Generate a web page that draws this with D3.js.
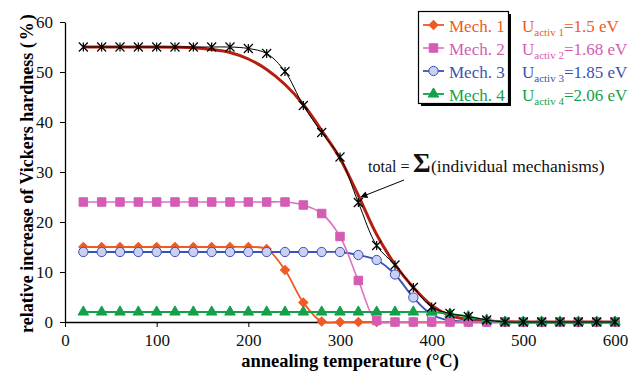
<!DOCTYPE html>
<html>
<head>
<meta charset="utf-8">
<script src="https://cdn.jsdelivr.net/npm/d3@7"></script>
<style>
  body { margin: 0; background: #fff; }
  #chart, #chart text { font-family: "Liberation Serif", "Times New Roman", Times, serif !important; }
</style>
</head>
<body>
<svg id="chart" width="629" height="373" font-family="Liberation Serif, Times New Roman, serif"></svg>
<script>
// Annealing temperatures (°C) of the measured points
const temps = [20, 40, 60, 80, 100, 120, 140, 160, 180, 200, 220, 240, 260, 280, 300,
               320, 340, 360, 380, 400, 420, 440, 460, 480, 500, 520, 540, 560, 580, 600];

// Relative increase of Vickers hardness (%) per recovery mechanism
const mech1 = [15, 15, 15, 15, 15, 15, 15, 15, 15, 15, 14.6, 10.4, 3.9, 0.1, 0,
               0, 0, 0, 0, 0, 0, 0, 0, 0, 0, 0, 0, 0, 0, 0];
const mech2 = [24, 24, 24, 24, 24, 24, 24, 24, 24, 24, 24, 24, 23.4, 21.7, 17.1,
               8.3, 0.3, 0, 0, 0, 0, 0, 0, 0, 0, 0, 0, 0, 0, 0];
const mech3 = [14, 14, 14, 14, 14, 14, 14, 14, 14, 14, 14, 14, 14, 14, 14,
               13.4, 12.4, 9.5, 4.9, 1.5, 0.3, 0.1, 0, 0, 0, 0, 0, 0, 0, 0];
const mech4 = [2, 2, 2, 2, 2, 2, 2, 2, 2, 2, 2, 2, 2, 2, 2,
               2, 2, 2, 2, 2, 1.6, 1.1, 0.4, 0, 0, 0, 0, 0, 0, 0];
const total = [55, 55, 55, 55, 55, 55, 55, 55, 55, 54.7, 53.7, 50.1, 43.3, 37.9, 33.0,
               23.9, 15.3, 11.4, 6.9, 3.0, 1.7, 1.1, 0.4, 0, 0, 0, 0, 0, 0, 0];

// Smooth model curve for the sum of the mechanisms
const fitTemps = [20, 40, 60, 80, 100, 120, 140, 160, 180, 200, 220, 240, 260, 280, 300,
                  320, 340, 360, 380, 400, 420, 440, 460, 480, 500, 520, 540, 560, 580, 600];
const fitValues = [55, 55, 55, 55, 55, 54.95, 54.85, 54.5, 53.9, 52.6, 50.5, 47.5, 43.5, 38.3, 32.7,
                   25.3, 17.5, 11.5, 6.9, 3.3, 1.3, 0.5, 0.2, 0.07, 0.02, 0, 0, 0, 0, 0];

// Axis ticks
const xTicks = [0, 100, 200, 300, 400, 500, 600];
const yTicks = [0, 10, 20, 30, 40, 50, 60];

// Legend texts
const mechNames = ["Mech. 1", "Mech. 2", "Mech. 3", "Mech. 4"];
const activSubs = ["activ 1", "activ 2", "activ 3", "activ 4"];
const activValues = ["=1.5 eV", "=1.68 eV", "=1.85 eV", "=2.06 eV"];

const FONT = "Liberation Serif, Times New Roman, serif";
const svg = d3.select("#chart");
const x = d3.scaleLinear().domain([0, 600]).range([65, 615]);
const y = d3.scaleLinear().domain([0, 60]).range([322, 22]);

// Axes
const xAxis = svg.append("g")
  .attr("transform", `translate(0,${y(0)})`)
  .call(d3.axisBottom(x).tickValues(xTicks).tickSize(5).tickSizeOuter(0).tickPadding(7));
const yAxis = svg.append("g")
  .attr("transform", `translate(${x(0)},0)`)
  .call(d3.axisLeft(y).tickValues(yTicks).tickSize(5).tickSizeOuter(0).tickPadding(7));
[xAxis, yAxis].forEach(a => {
  a.attr("font-family", FONT);
  a.selectAll("path.domain").attr("stroke", "#000").attr("stroke-width", 1.3);
  a.selectAll(".tick line").attr("stroke", "#000").attr("stroke-width", 1);
  a.selectAll("text").attr("font-size", 17).attr("fill", "#111");
});

// Axis titles
svg.append("text")
  .attr("x", 350).attr("y", 367)
  .attr("text-anchor", "middle")
  .attr("font-size", 18.5).attr("font-weight", "bold")
  .text("annealing temperature (°C)");
const yTitle = svg.append("text")
  .attr("transform", "translate(32.5,333) rotate(-90)")
  .attr("text-anchor", "start")
  .attr("font-size", 18).attr("font-weight", "bold");
yTitle.append("tspan").text("relative increase of Vickers hardness ");
yTitle.append("tspan").text("(");
yTitle.append("tspan").attr("dx", 2).text("%");
yTitle.append("tspan").attr("dx", 2).text(")");

// Marker shapes
const asteriskPath = (r) =>
  `M0,${-r}L0,${r}M${-r},${-r}L${r},${r}M${-r},${r}L${r},${-r}`;
const markers = {
  diamond: { d: d3.symbol(d3.symbolSquare, 42)(), rot: 45 },
  square: { d: d3.symbol(d3.symbolSquare, 72)(), rot: 0 },
  circle: { d: d3.symbol(d3.symbolCircle, 68)(), rot: 0 },
  triangle: { d: d3.symbol(d3.symbolTriangle, 48)(), rot: 0 },
  asterisk: { d: asteriskPath(4.5), rot: 0 }
};

const series = [
  { name: "m1", values: mech1, line: "#ee5a24", fill: "#ee5a24", stroke: "#ee5a24", marker: "diamond", lw: 1.8 },
  { name: "m3", values: mech3, line: "#3a52b4", fill: "#c9d0f2", stroke: "#3a52b4", marker: "circle", lw: 1.8 },
  { name: "m2", values: mech2, line: "#dc72c4", fill: "#d45cb3", stroke: "#d45cb3", marker: "square", lw: 1.6 },
  { name: "m4", values: mech4, line: "#14a04a", fill: "#14a04a", stroke: "#14a04a", marker: "triangle", lw: 1.8 },
  { name: "total", values: total, line: "#000", fill: "none", stroke: "#000", marker: "asterisk", lw: 1 }
];

// Model curve (drawn underneath the measured series)
const fitLine = d3.line()
  .x((d, i) => x(fitTemps[i]))
  .y(d => y(d))
  .curve(d3.curveCatmullRom.alpha(0.5));
svg.append("path")
  .attr("d", fitLine(fitValues))
  .attr("fill", "none")
  .attr("stroke", "#b3200f")
  .attr("stroke-width", 3);

const seriesLine = d3.line()
  .x((d, i) => x(temps[i]))
  .y(d => y(d))
  .curve(d3.curveCatmullRom.alpha(0.5));

series.forEach(s => {
  const g = svg.append("g").attr("class", "series-" + s.name);
  g.append("path")
    .attr("d", seriesLine(s.values))
    .attr("fill", "none")
    .attr("stroke", s.line)
    .attr("stroke-width", s.lw);
  const m = markers[s.marker];
  g.selectAll("path.mk")
    .data(s.values)
    .join("path")
    .attr("class", "mk")
    .attr("d", m.d)
    .attr("transform", (d, i) => `translate(${x(temps[i])},${y(d)}) rotate(${m.rot})`)
    .attr("fill", s.fill)
    .attr("stroke", s.stroke)
    .attr("stroke-width", s.marker === "asterisk" ? 1.2 : 1);
});

// Legend
const legendSeries = [series[0], series[2], series[1], series[3]];
const legendRows = [25, 48, 71, 94];
const lg = svg.append("g");
lg.append("rect").attr("x", 421).attr("y", 14).attr("width", 90).attr("height", 92).attr("fill", "#000");
lg.append("rect").attr("x", 418.5).attr("y", 11.5).attr("width", 90).attr("height", 92)
  .attr("fill", "#fff").attr("stroke", "#000").attr("stroke-width", 1.2);
legendSeries.forEach((s, i) => {
  const yy = legendRows[i];
  lg.append("line").attr("x1", 423).attr("x2", 444).attr("y1", yy).attr("y2", yy)
    .attr("stroke", s.line).attr("stroke-width", s.lw);
  const m = markers[s.marker];
  lg.append("path").attr("d", m.d)
    .attr("transform", `translate(433.5,${yy}) rotate(${m.rot})`)
    .attr("fill", s.fill).attr("stroke", s.stroke).attr("stroke-width", 1);
  lg.append("text").attr("x", 449).attr("y", yy + 6.5)
    .attr("font-size", 17).attr("fill", s.stroke)
    .text(mechNames[i]);
  const t = lg.append("text").attr("x", 522).attr("y", yy + 6.5)
    .attr("font-size", 17).attr("fill", s.stroke);
  t.append("tspan").text("U");
  t.append("tspan").attr("font-size", 11).attr("dy", 4).text(activSubs[i]);
  t.append("tspan").attr("dy", -4).text(activValues[i]);
});

// Annotation for the model curve
svg.append("defs").append("marker")
  .attr("id", "arrowhead")
  .attr("viewBox", "0 0 10 10")
  .attr("refX", 9).attr("refY", 5)
  .attr("markerWidth", 9).attr("markerHeight", 7)
  .attr("markerUnits", "userSpaceOnUse")
  .attr("orient", "auto")
  .append("path").attr("d", "M0,0L10,5L0,10Z").attr("fill", "#000");
svg.append("line")
  .attr("x1", 404).attr("y1", 180).attr("x2", 361).attr("y2", 197)
  .attr("stroke", "#000").attr("stroke-width", 1)
  .attr("marker-end", "url(#arrowhead)");
const ann = svg.append("text").attr("y", 172).attr("fill", "#111");
ann.append("tspan").attr("x", 368).attr("font-size", 16).text("total =");
ann.append("tspan").attr("x", 413).attr("font-size", 27).attr("font-weight", "bold").text("Σ");
ann.append("tspan").attr("x", 431).attr("font-size", 17.5).text("(individual mechanisms)");
</script>
</body>
</html>
